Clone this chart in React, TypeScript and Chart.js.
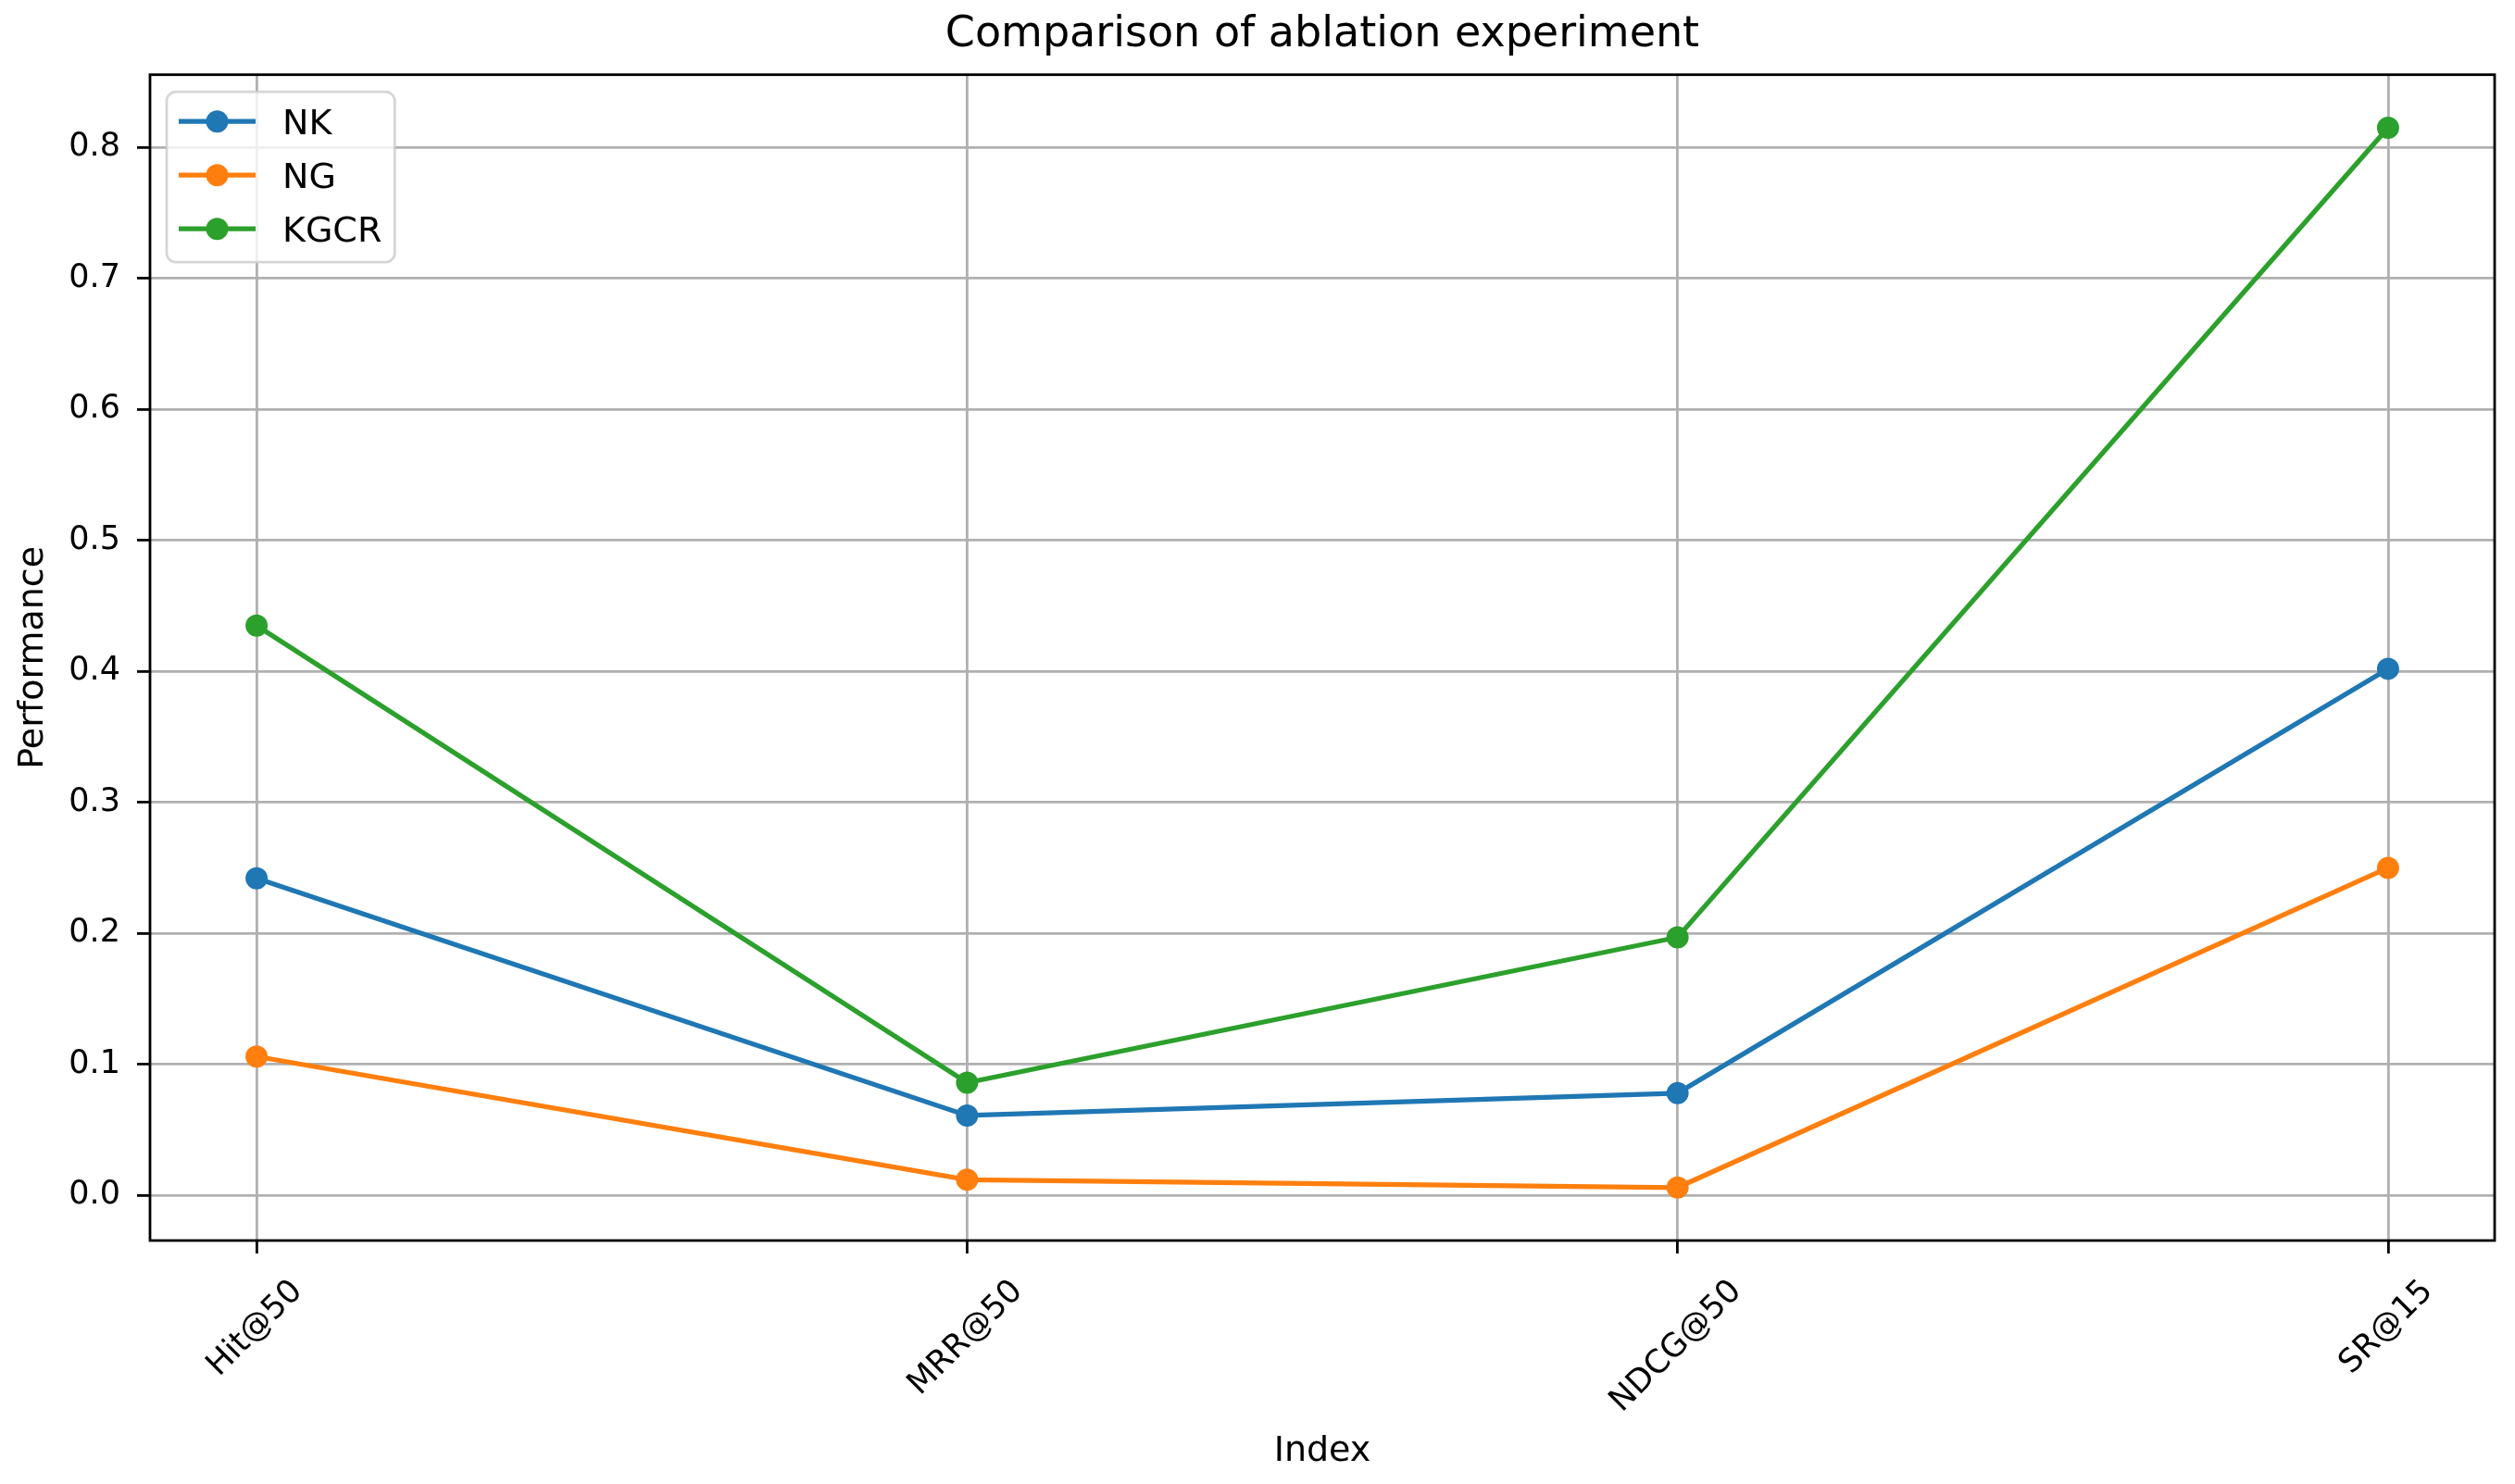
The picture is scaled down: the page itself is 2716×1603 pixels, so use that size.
import React, { useEffect, useRef } from "react";
import { Chart, registerables } from "chart.js";

Chart.register(...registerables);

const categories = ["Hit@50", "MRR@50", "NDCG@50", "SR@15"];
const nkValues = [0.242, 0.061, 0.078, 0.402];
const ngValues = [0.106, 0.012, 0.006, 0.25];
const kgcrValues = [0.435, 0.086, 0.197, 0.815];
const seriesNames = ["NK", "NG", "KGCR"];
const seriesColors = ["#1f77b4", "#ff7f0e", "#2ca02c"];
const yTickStep = 0.1;

const FONT = "'DejaVu Sans', sans-serif";

export default function App() {
  const ref = useRef<HTMLCanvasElement>(null);

  useEffect(() => {
    const canvas = ref.current!;
    const allSeries = [nkValues, ngValues, kgcrValues];
    const flat = allSeries.flat();
    const dMin = Math.min(...flat);
    const dMax = Math.max(...flat);
    const yMargin = (dMax - dMin) * 0.05;
    const yMin = dMin - yMargin;
    const yMax = dMax + yMargin;
    const xMargin = (categories.length - 1) * 0.05;

    const framePlugin = {
      id: "frameAndLegend",
      afterDatasetsDraw(chart: any) {
        const ctx = chart.ctx;
        const ca = chart.chartArea;
        ctx.save();
        ctx.strokeStyle = "#000";
        ctx.lineWidth = 2.8;
        ctx.strokeRect(ca.left, ca.top, ca.right - ca.left, ca.bottom - ca.top);

        // legend
        ctx.font = `38px ${FONT}`;
        const bx = ca.left + 18;
        const by = ca.top + 18.5;
        const textOff = 125;
        let maxW = 0;
        chart.data.datasets.forEach((d: any) => {
          maxW = Math.max(maxW, ctx.measureText(d.label).width);
        });
        const bw = textOff + maxW + 14;
        const bh = 184;
        ctx.beginPath();
        if ((ctx as any).roundRect) (ctx as any).roundRect(bx, by, bw, bh, 10);
        else ctx.rect(bx, by, bw, bh);
        ctx.fillStyle = "rgba(255,255,255,0.8)";
        ctx.fill();
        ctx.strokeStyle = "rgba(204,204,204,0.8)";
        ctx.lineWidth = 2.8;
        ctx.stroke();
        chart.data.datasets.forEach((d: any, i: number) => {
          const cy = by + 32 + i * 58;
          ctx.strokeStyle = d.borderColor;
          ctx.lineWidth = 5.25;
          ctx.beginPath();
          ctx.moveTo(bx + 13, cy);
          ctx.lineTo(bx + 96, cy);
          ctx.stroke();
          ctx.fillStyle = d.borderColor;
          ctx.beginPath();
          ctx.arc(bx + 54.5, cy, 12, 0, Math.PI * 2);
          ctx.fill();
          ctx.fillStyle = "#000";
          ctx.textAlign = "left";
          ctx.textBaseline = "alphabetic";
          ctx.fillText(d.label, bx + textOff, cy + 13.85);
        });
        ctx.restore();
      },
    };

    const xLabelPlugin = {
      id: "xRotatedLabels",
      afterDraw(chart: any) {
        const ctx = chart.ctx;
        const xs = chart.scales.x;
        const ca = chart.chartArea;
        ctx.save();
        ctx.font = `35px ${FONT}`;
        ctx.fillStyle = "#000";
        categories.forEach((lab, i) => {
          const px = xs.getPixelForValue(i);
          const w = ctx.measureText(lab).width;
          const ext = (w + 25.5) * Math.SQRT1_2;
          const cy = ca.bottom + 14 + 24 + ext / 2;
          ctx.save();
          ctx.translate(px - 4, cy);
          ctx.rotate(-Math.PI / 4);
          ctx.textAlign = "center";
          ctx.textBaseline = "alphabetic";
          ctx.fillText(lab, 0, 12.75);
          ctx.restore();
        });
        ctx.restore();
      },
    };

    const gridOpts = {
      color: "#b0b0b0",
      lineWidth: 2.8,
      drawTicks: true,
      tickLength: 14,
      tickColor: "#000",
      tickWidth: 2.8,
    };

    const chart = new Chart(canvas, {
      type: "line",
      data: {
        datasets: allSeries.map((vals, s) => ({
          label: seriesNames[s],
          data: categories.map((_, i) => ({ x: i, y: vals[i] })),
          borderColor: seriesColors[s],
          backgroundColor: seriesColors[s],
          pointBackgroundColor: seriesColors[s],
          pointBorderColor: seriesColors[s],
          borderWidth: 5.25,
          pointRadius: 11,
          pointBorderWidth: 2,
          tension: 0,
          fill: false,
        })),
      },
      options: {
        animation: false,
        responsive: false,
        devicePixelRatio: 1,
        layout: { padding: { left: 0, right: 22, top: 0, bottom: 0 } },
        plugins: {
          legend: { display: false },
          tooltip: { enabled: false },
          title: {
            display: true,
            fullSize: false,
            text: "Comparison of ablation experiment",
            color: "#000",
            font: { size: 46, weight: "normal", family: FONT, lineHeight: 1.2 },
            padding: { top: 10.5, bottom: 15 },
          },
        },
        scales: {
          x: {
            type: "linear",
            min: -xMargin,
            max: categories.length - 1 + xMargin,
            ticks: { display: false, stepSize: 1, includeBounds: false },
            grid: gridOpts,
            border: { display: false },
            title: {
              display: true,
              text: "Index",
              color: "#000",
              font: { size: 38, family: FONT, lineHeight: 1.2 },
              padding: { top: 0, bottom: 12.2 },
            },
            afterFit: (s: any) => {
              s.height = 263;
            },
          },
          y: {
            type: "linear",
            min: yMin,
            max: yMax,
            ticks: {
              stepSize: yTickStep,
              includeBounds: false,
              color: "#000",
              font: { size: 35, family: FONT },
              padding: 18,
              callback: (v: any) => Number(v).toFixed(1),
            },
            grid: gridOpts,
            border: { display: false },
            title: {
              display: true,
              text: "Performance",
              color: "#000",
              font: { size: 38, family: FONT, lineHeight: 1.2 },
              padding: { top: 13.2, bottom: 0 },
            },
            afterFit: (s: any) => {
              s.width = 162;
            },
          },
        },
      } as any,
      plugins: [framePlugin, xLabelPlugin],
    });
    return () => chart.destroy();
  }, []);

  return (
    <div
      style={{
        position: "absolute",
        left: 0,
        top: 0,
        width: 2716,
        height: 1603,
        background: "#fff",
      }}
    >
      <canvas
        ref={ref}
        width={2716}
        height={1603}
        style={{ display: "block", width: 2716, height: 1603 }}
      />
    </div>
  );
}
